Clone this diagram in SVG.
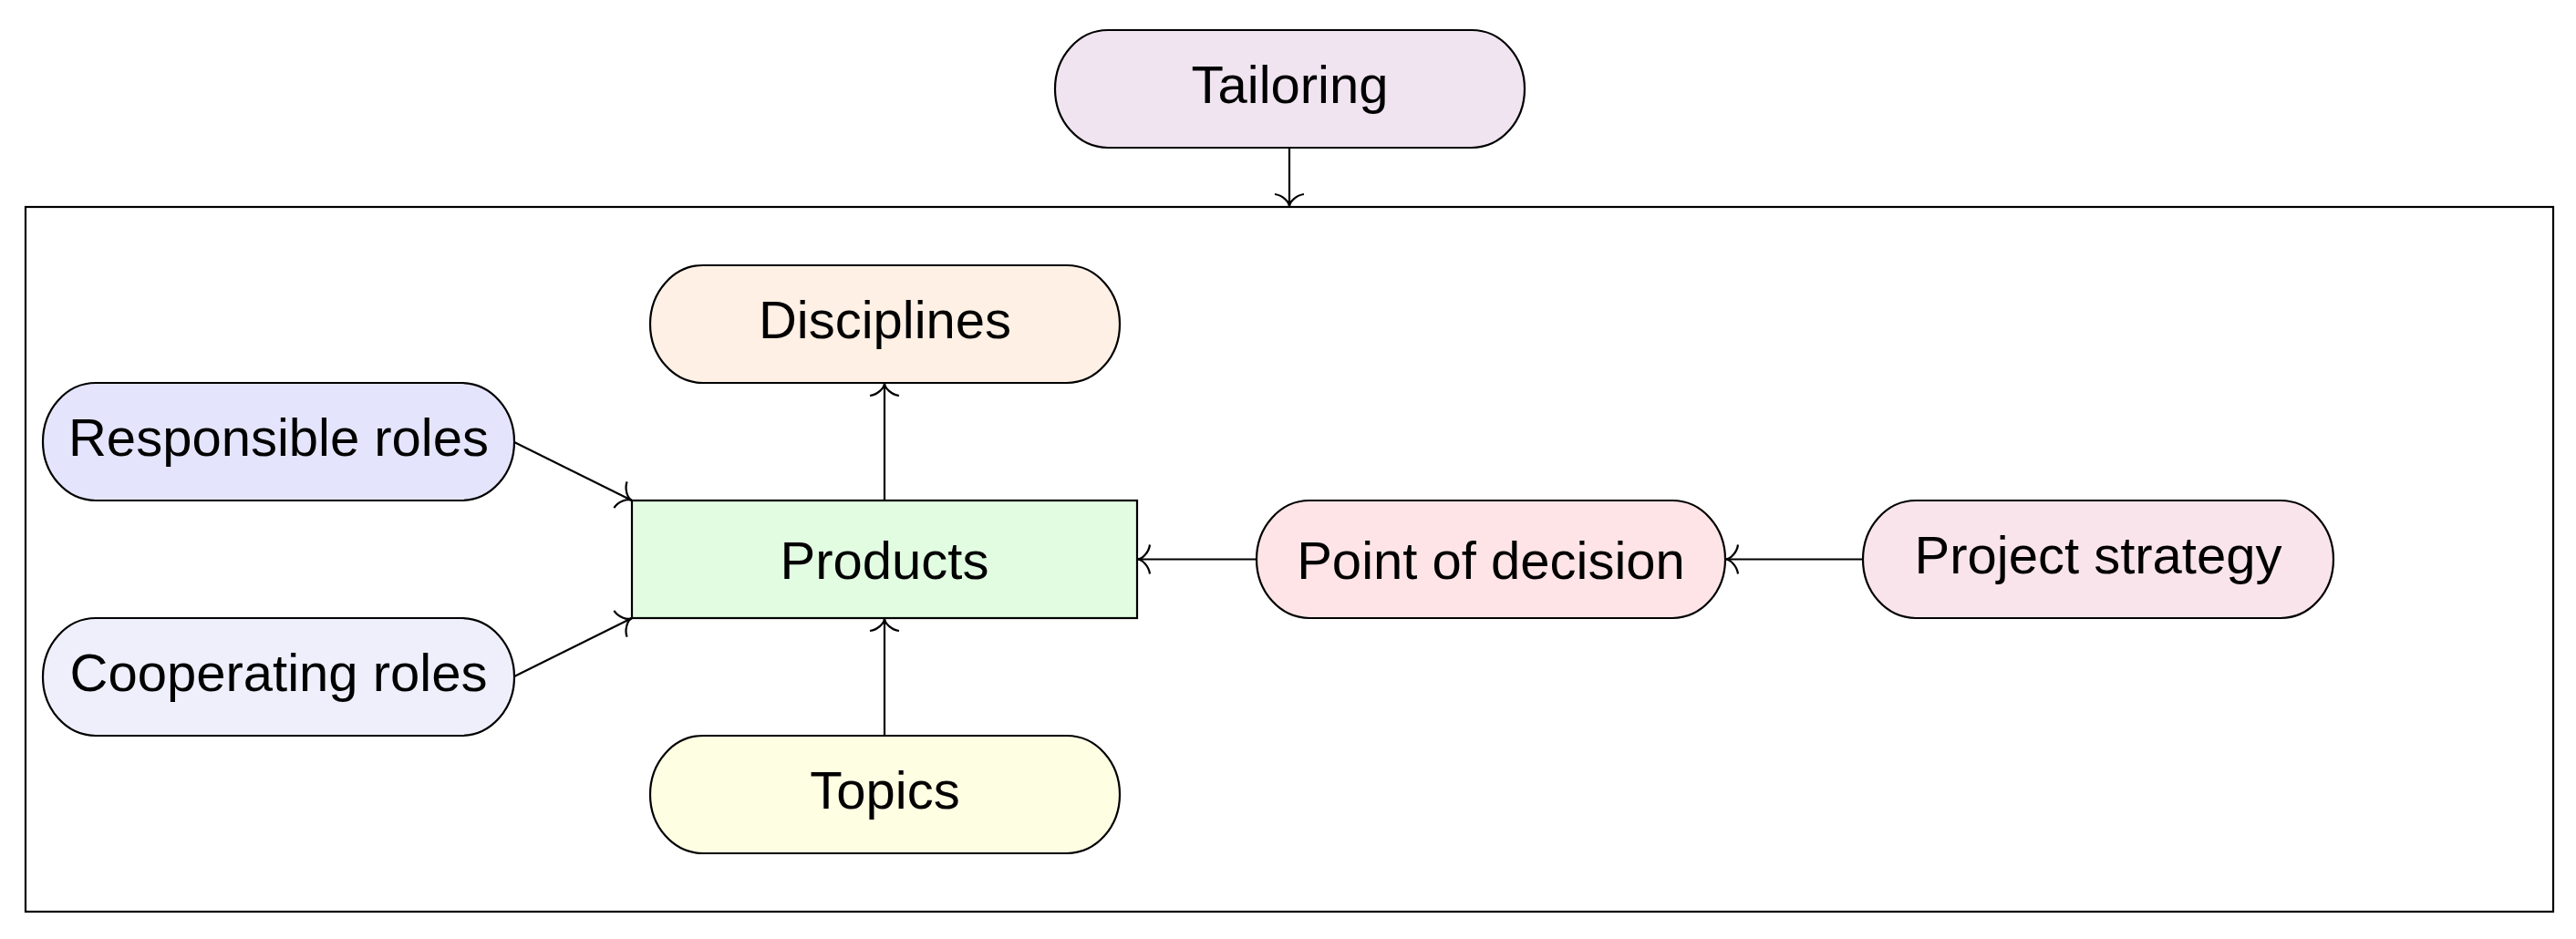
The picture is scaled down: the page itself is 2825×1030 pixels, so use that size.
<svg xmlns="http://www.w3.org/2000/svg" width="2825" height="1030" viewBox="0 0 2825 1030">
<style>
.n{stroke:#000;stroke-width:2.2}
.t{font-family:"Liberation Sans",Arial,Helvetica,sans-serif;font-size:58px;fill:#000;text-anchor:middle}
.c{stroke:#000;stroke-width:2.2;fill:none;marker-end:url(#to)}
</style>
<defs>
<marker id="to" markerUnits="userSpaceOnUse" markerWidth="40" markerHeight="40" viewBox="-20 -20 40 40" refX="0" refY="0" orient="auto" overflow="visible">
<path d="M-14,-16 C-13,-8 -6,0 0,0 C-6,0 -13,8 -14,16" fill="none" stroke="#000" stroke-width="2.2"/>
</marker>
</defs>
<rect width="2825" height="1030" fill="#fff"/>
<g id="frame"><rect x="28" y="227" width="2772" height="773" fill="none" stroke="#000" stroke-width="2.2"/></g>
<g id="connectors">
<line class="c" x1="1414" y1="162" x2="1414" y2="227"/>
<line class="c" x1="970" y1="549" x2="970" y2="420"/>
<line class="c" x1="970" y1="807" x2="970" y2="678"/>
<line class="c" x1="564" y1="485" x2="693" y2="549"/>
<line class="c" x1="564" y1="742" x2="693" y2="678"/>
<line class="c" x1="1378" y1="613.5" x2="1247" y2="613.5"/>
<line class="c" x1="2043" y1="613.5" x2="1892" y2="613.5"/>
</g>
<g id="tailoring"><rect class="n" x="1157" y="33" width="515" height="129" rx="58" ry="64.5" fill="#F0E4F1"/><text class="t" x="1414.5" y="113">Tailoring</text></g>
<g id="disciplines"><rect class="n" x="713" y="291" width="515" height="129" rx="58" ry="64.5" fill="#FEF0E4"/><text class="t" x="970.5" y="370.5">Disciplines</text></g>
<g id="responsible"><rect class="n" x="47" y="420" width="517" height="129" rx="58" ry="64.5" fill="#E4E4FC"/><text class="t" x="305.5" y="499.5">Responsible roles</text></g>
<g id="products"><rect class="n" x="693" y="549" width="554" height="129" fill="#E2FCE2"/><text class="t" x="970" y="635">Products</text></g>
<g id="cooperating"><rect class="n" x="47" y="678" width="517" height="129" rx="58" ry="64.5" fill="#EFEFFC"/><text class="t" x="305.5" y="757.5">Cooperating roles</text></g>
<g id="topics"><rect class="n" x="713" y="807" width="515" height="129" rx="58" ry="64.5" fill="#FEFEE2"/><text class="t" x="970.5" y="886.5">Topics</text></g>
<g id="decision"><rect class="n" x="1378" y="549" width="514" height="129" rx="58" ry="64.5" fill="#FEE4E6"/><text class="t" x="1635" y="635">Point of decision</text></g>
<g id="strategy"><rect class="n" x="2043" y="549" width="516" height="129" rx="58" ry="64.5" fill="#F9E4EC"/><text class="t" x="2301" y="628.5">Project strategy</text></g>
</svg>
